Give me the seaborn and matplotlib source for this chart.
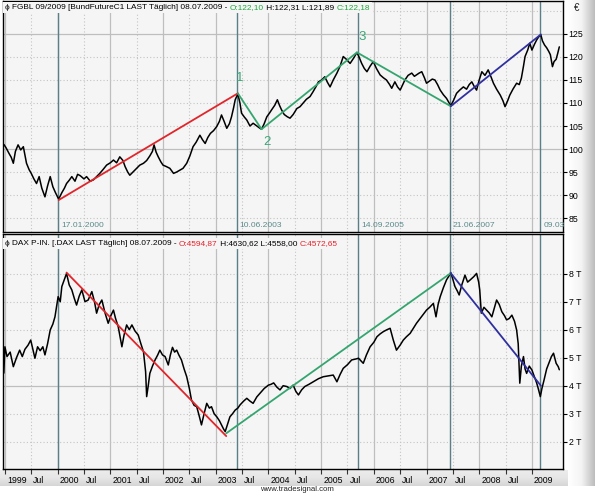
import numpy as np
import matplotlib
matplotlib.use("Agg")
import matplotlib.pyplot as plt
import matplotlib.transforms as mtransforms
from matplotlib.colors import LinearSegmentedColormap
from matplotlib.patches import Rectangle
import seaborn as sns

# ---------------- data (decimal years) ----------------
fgbl_t = [1998.98, 1999.02, 1999.08, 1999.12, 1999.16, 1999.20, 1999.25, 1999.30, 1999.35, 1999.41,
          1999.46, 1999.50, 1999.55, 1999.60, 1999.65, 1999.70, 1999.76, 1999.81, 1999.86, 1999.91,
          1999.96, 2000.02, 2000.08, 2000.13, 2000.17, 2000.22, 2000.27, 2000.33, 2000.38, 2000.43,
          2000.50, 2000.55, 2000.62, 2000.68, 2000.74, 2000.80, 2000.86, 2000.93, 2001.00, 2001.06,
          2001.12, 2001.18, 2001.24, 2001.28, 2001.33, 2001.37, 2001.43, 2001.50, 2001.56, 2001.63,
          2001.69, 2001.75, 2001.80, 2001.83, 2001.87, 2001.91, 2001.96, 2002.00, 2002.06, 2002.13,
          2002.20, 2002.26, 2002.32, 2002.38, 2002.45, 2002.51, 2002.57, 2002.63, 2002.70, 2002.75,
          2002.80, 2002.85, 2002.90, 2002.96, 2003.02, 2003.07, 2003.11, 2003.16, 2003.21, 2003.26,
          2003.30, 2003.34, 2003.37, 2003.42, 2003.46, 2003.49, 2003.54, 2003.59, 2003.65, 2003.71,
          2003.78, 2003.84, 2003.87, 2003.92, 2003.97, 2004.02, 2004.06, 2004.12, 2004.17, 2004.21,
          2004.25, 2004.30, 2004.36, 2004.41, 2004.47, 2004.54, 2004.60, 2004.66, 2004.72, 2004.79,
          2004.85, 2004.90, 2004.95, 2005.01, 2005.07, 2005.12, 2005.17, 2005.23, 2005.30, 2005.36,
          2005.42, 2005.48, 2005.55, 2005.62, 2005.68, 2005.72, 2005.77, 2005.82, 2005.87, 2005.93,
          2005.99, 2006.05, 2006.12, 2006.18, 2006.24, 2006.30, 2006.34, 2006.40, 2006.45, 2006.50,
          2006.55, 2006.59, 2006.65, 2006.72, 2006.77, 2006.81, 2006.86, 2006.91, 2006.96, 2007.00,
          2007.06, 2007.11, 2007.16, 2007.21, 2007.26, 2007.32, 2007.38, 2007.43, 2007.46, 2007.51,
          2007.57, 2007.63, 2007.70, 2007.76, 2007.81, 2007.86, 2007.91, 2007.95, 2008.00, 2008.05,
          2008.11, 2008.17, 2008.22, 2008.27, 2008.33, 2008.40, 2008.45, 2008.49, 2008.54, 2008.58,
          2008.64, 2008.71, 2008.76, 2008.80, 2008.84, 2008.87, 2008.92, 2008.96, 2009.00, 2009.05,
          2009.09, 2009.13, 2009.17, 2009.20, 2009.24, 2009.28, 2009.32, 2009.35, 2009.39, 2009.42,
          2009.46, 2009.49, 2009.52]
fgbl_v = [101.0, 100.3, 99.0, 98.2, 96.9, 99.5, 100.9, 99.8, 100.5, 96.9,
          95.5, 94.7, 93.5, 92.5, 94.0, 91.5, 89.6, 92.0, 94.0, 91.8,
          90.5, 89.1, 90.5, 91.5, 92.5, 93.2, 94.0, 93.0, 94.5, 94.2,
          93.5, 94.0, 93.0, 93.3, 94.0, 94.7, 95.5, 96.5, 97.0, 97.6,
          97.0, 98.3, 97.5, 96.2, 95.0, 94.3, 95.0, 95.8, 96.5, 96.9,
          97.5, 98.5, 99.5, 100.9, 99.3, 98.3, 97.2, 96.5, 96.2, 95.8,
          94.7, 95.0, 95.4, 95.8, 96.9, 98.5, 100.5, 101.5, 103.0, 102.0,
          101.2, 102.5, 103.4, 104.0, 104.9, 106.0, 107.4, 106.0, 104.5, 105.5,
          107.0, 109.0, 110.7, 112.0, 110.0, 107.8, 107.0, 106.3, 105.0, 105.6,
          105.0, 104.5, 104.3, 105.5, 107.0, 107.8, 108.5, 109.5, 110.7, 109.5,
          108.5, 107.5, 107.0, 106.7, 107.5, 108.8, 109.2, 110.0, 110.8, 111.4,
          112.5, 113.5, 114.6, 115.0, 115.7, 114.5, 113.5, 115.0, 116.5, 118.0,
          120.1, 119.5, 118.6, 119.8, 121.0, 120.0, 118.6, 117.5, 116.8, 118.0,
          119.0, 117.5, 116.1, 115.5, 115.0, 114.0, 113.2, 114.6, 113.5, 112.8,
          114.0, 115.0, 116.0, 116.5, 115.8, 116.1, 116.5, 116.8, 115.5, 114.3,
          114.8, 115.2, 115.0, 114.0, 112.8, 111.8, 111.0, 110.0, 109.4, 110.5,
          112.1, 112.8, 113.5, 113.0, 114.0, 114.6, 113.5, 112.8, 115.0, 116.8,
          116.0, 117.2, 115.8, 114.3, 113.0, 111.7, 110.5, 109.2, 110.5, 111.7,
          113.0, 114.3, 114.0, 115.4, 118.0, 120.1, 121.5, 123.0, 121.5, 122.8,
          123.7, 124.4, 124.8, 123.5, 122.6, 122.0, 121.2, 120.5, 117.9, 119.0,
          119.5, 120.8, 122.2]

dax_t = [1998.98, 1999.00, 1999.04, 1999.10, 1999.16, 1999.22, 1999.28, 1999.33, 1999.38, 1999.44,
         1999.49, 1999.53, 1999.57, 1999.62, 1999.67, 1999.72, 1999.76, 1999.81, 1999.86, 1999.91,
         1999.95, 2000.01, 2000.05, 2000.08, 2000.13, 2000.17, 2000.22, 2000.27, 2000.32, 2000.36,
         2000.41, 2000.46, 2000.52, 2000.58, 2000.65, 2000.70, 2000.74, 2000.79, 2000.84, 2000.90,
         2000.96, 2001.01, 2001.06, 2001.10, 2001.15, 2001.22, 2001.26, 2001.31, 2001.36, 2001.41,
         2001.47, 2001.53, 2001.58, 2001.63, 2001.67, 2001.69, 2001.72, 2001.75, 2001.80, 2001.85,
         2001.90, 2001.94, 2001.99, 2002.04, 2002.10, 2002.14, 2002.18, 2002.22, 2002.26, 2002.30,
         2002.35, 2002.40, 2002.45, 2002.50, 2002.54, 2002.59, 2002.64, 2002.69, 2002.73, 2002.78,
         2002.83, 2002.88, 2002.92, 2002.97, 2003.02, 2003.07, 2003.11, 2003.15, 2003.18, 2003.22,
         2003.27, 2003.32, 2003.37, 2003.42, 2003.46, 2003.53, 2003.59, 2003.65, 2003.71, 2003.78,
         2003.84, 2003.92, 2004.00, 2004.05, 2004.10, 2004.16, 2004.22, 2004.28, 2004.35, 2004.41,
         2004.47, 2004.52, 2004.57, 2004.63, 2004.69, 2004.77, 2004.85, 2004.95, 2005.04, 2005.13,
         2005.23, 2005.30, 2005.36, 2005.42, 2005.50, 2005.58, 2005.65, 2005.71, 2005.80, 2005.86,
         2005.93, 2006.00, 2006.06, 2006.12, 2006.18, 2006.25, 2006.31, 2006.37, 2006.43, 2006.50,
         2006.56, 2006.62, 2006.69, 2006.75, 2006.81, 2006.90, 2007.00, 2007.06, 2007.13, 2007.18,
         2007.22, 2007.26, 2007.32, 2007.38, 2007.42, 2007.46, 2007.50, 2007.54, 2007.58, 2007.62,
         2007.67, 2007.73, 2007.78, 2007.83, 2007.90, 2007.95, 2007.99, 2008.01, 2008.04, 2008.09,
         2008.14, 2008.19, 2008.24, 2008.29, 2008.33, 2008.38, 2008.43, 2008.48, 2008.52, 2008.57,
         2008.62, 2008.67, 2008.71, 2008.74, 2008.77, 2008.80, 2008.84, 2008.87, 2008.90, 2008.95,
         2009.00, 2009.05, 2009.09, 2009.12, 2009.16, 2009.19, 2009.23, 2009.28, 2009.32, 2009.37,
         2009.41, 2009.46, 2009.50, 2009.52]
dax_v = [4.45, 5.39, 5.04, 5.20, 4.68, 5.00, 5.27, 5.04, 5.30, 5.45,
         5.63, 5.30, 4.98, 5.39, 5.25, 5.39, 5.10, 5.50, 5.99, 6.20,
         6.46, 7.18, 7.00, 7.54, 7.80, 8.01, 7.60, 7.42, 7.10, 6.88,
         7.20, 7.42, 7.00, 7.06, 7.36, 7.00, 6.59, 6.90, 7.06, 6.60,
         6.23, 6.50, 6.70, 6.40, 6.11, 5.39, 5.80, 6.17, 6.00, 6.17,
         5.95, 5.81, 5.50, 5.21, 4.50, 3.61, 4.00, 4.44, 4.70, 4.92,
         5.10, 5.27, 5.10, 5.04, 4.74, 5.10, 5.37, 5.20, 5.27, 5.10,
         4.92, 4.60, 4.32, 3.90, 3.49, 3.30, 3.25, 2.90, 2.60, 3.00,
         3.37, 3.20, 3.25, 3.00, 2.89, 2.75, 2.60, 2.45, 2.36, 2.60,
         2.89, 3.00, 3.13, 3.20, 3.31, 3.45, 3.55, 3.45, 3.37, 3.60,
         3.73, 3.90, 4.02, 4.05, 4.10, 3.95, 3.85, 4.00, 3.97, 3.90,
         4.02, 3.80, 3.67, 3.85, 3.97, 4.05, 4.14, 4.25, 4.32, 4.35,
         4.38, 4.14, 4.40, 4.62, 4.75, 4.92, 4.95, 4.98, 4.80, 5.10,
         5.39, 5.55, 5.75, 5.85, 5.93, 6.00, 6.05, 5.63, 5.27, 5.45,
         5.63, 5.75, 5.87, 6.05, 6.23, 6.45, 6.70, 6.80, 6.94, 6.46,
         6.90, 7.18, 7.50, 7.78, 7.90, 8.04, 7.80, 7.54, 7.40, 7.24,
         7.60, 7.95, 7.70, 7.78, 7.90, 8.01, 7.70, 7.42, 6.59, 6.80,
         6.70, 6.60, 6.46, 6.80, 7.06, 6.90, 6.64, 6.50, 6.35, 6.40,
         6.52, 6.30, 5.99, 5.50, 4.09, 4.70, 5.04, 4.60, 4.44, 4.70,
         4.56, 4.30, 4.10, 3.90, 3.61, 3.90, 4.20, 4.60, 4.80, 5.04,
         5.16, 4.80, 4.68, 4.57]

# trend lines
fgbl_red_t, fgbl_red_v = [2000.02, 2003.42], [88.9, 112.1]
fgbl_green_t, fgbl_green_v = [2003.42, 2003.87, 2005.68, 2007.46], [112.1, 104.3, 121.0, 109.3]
fgbl_blue_t, fgbl_blue_v = [2007.46, 2009.17], [109.3, 124.9]
dax_red_t, dax_red_v = [2000.17, 2003.20], [8.04, 2.20]
dax_green_t, dax_green_v = [2003.20, 2007.46], [2.30, 8.02]
dax_blue_t, dax_blue_v = [2007.46, 2009.17], [8.02, 4.00]

# wave labels
wave_labels = ["1", "2", "3"]
wave_t = [2003.45, 2003.97, 2005.78]
wave_v = [115.4, 101.6, 124.3]

# marked dates (last one is cut off at the right edge in the chart)
marker_t = [2000.01, 2003.40, 2005.70, 2007.44, 2009.16]
marker_labels = ["17.01.2000", "10.06.2003", "14.09.2005", "21.06.2007", "09.03"]

# axes ticks
year_ticks = list(range(1999, 2010))
jul_ticks = [y + 0.5 for y in range(1999, 2009)]
top_ticks = [85, 90, 95, 100, 105, 110, 115, 120, 125]
top_grid = [85, 90, 95, 100, 105, 110, 115, 120, 125, 130]
top_solid = [100, 125]
bot_ticks = [2, 3, 4, 5, 6, 7, 8]
bot_solid = [4]

top_header = [("ϕ FGBL 09/2009 [BundFutureC1 LAST Täglich] 08.07.2009 - ", "black"),
              ("O:122,10", "#1fa83c"), (" H:122,31 L:121,89 ", "black"), ("C:122,18", "#1fa83c")]
bot_header = [("ϕ DAX P-IN. [.DAX LAST Täglich] 08.07.2009 - ", "black"),
              ("O:4594,87", "#e8202a"), (" H:4630,62 L:4558,00 ", "black"), ("C:4572,65", "#e8202a")]

# ---------------- styling ----------------
sns.set_theme(style="white")
plt.rcParams['font.family'] = ['Liberation Sans', 'DejaVu Sans']

W, H = 595, 494
fig = plt.figure(figsize=(W / 100, H / 100), dpi=100)
fig.patch.set_facecolor("white")

def rect(x0, y0, x1, y1):
    return [x0 / W, 1 - y1 / H, (x1 - x0) / W, (y1 - y0) / H]

# background decorations
bg = fig.add_axes([0, 0, 1, 1], zorder=-10)
bg.set_xlim(0, W); bg.set_ylim(H, 0); bg.axis("off")
cm_r = LinearSegmentedColormap.from_list("r", ["#ffffff", "#f4f4f4", "#bcbcbc"])
bg.imshow(np.linspace(0, 1, 64)[None, :], extent=[568, 595, 486, 0], cmap=cm_r, aspect="auto")
cm_b = LinearSegmentedColormap.from_list("b", ["#ececec", "#e6e6e6", "#d6d6d6"])
bg.imshow(np.linspace(0, 1, 16)[:, None], extent=[0, 568, 486, 470], cmap=cm_b, aspect="auto")

ax1 = fig.add_axes(rect(3, 1, 563, 232))
ax2 = fig.add_axes(rect(3, 234, 563, 469))
PLOT_BG = "#f5f5f5"
XMIN, XMAX = 1998.964, 2009.59

for ax in (ax1, ax2):
    ax.set_facecolor(PLOT_BG)
    ax.set_xlim(XMIN, XMAX)
    for s in ax.spines.values():
        s.set_color("black"); s.set_linewidth(1.0); s.set_visible(True)
    for x in year_ticks:
        ax.axvline(x, color="#bebebe", lw=0.9, zorder=1)
    for x in jul_ticks:
        ax.axvline(x, color="#c4c4c4", lw=0.8, ls=(0, (1, 2)), zorder=1)
    for x in marker_t:
        ax.axvline(x, color="#5b7f86", lw=1.0, zorder=1.5)

ax1.set_ylim(81.96, 132.17)
ax2.set_ylim(1.025, 9.418)
for v in top_grid:
    if v in top_solid:
        ax1.axhline(v, color="#bebebe", lw=0.9, zorder=1)
    else:
        ax1.axhline(v, color="#c4c4c4", lw=0.8, ls=(0, (1, 2)), zorder=1)
for v in bot_ticks:
    if v in bot_solid:
        ax2.axhline(v, color="#bebebe", lw=0.9, zorder=1)
    else:
        ax2.axhline(v, color="#c4c4c4", lw=0.8, ls=(0, (1, 2)), zorder=1)

RED, GREEN, BLUE = "#e0262b", "#35a56f", "#2f2f9f"
kw = dict(sort=False, estimator=None, legend=False)

sns.lineplot(x=fgbl_t, y=fgbl_v, ax=ax1, color="black", lw=1.1, zorder=3, **kw)
sns.lineplot(x=fgbl_red_t, y=fgbl_red_v, ax=ax1, color=RED, lw=1.3, zorder=4, **kw)
sns.lineplot(x=fgbl_green_t, y=fgbl_green_v, ax=ax1, color=GREEN, lw=1.3, zorder=4, **kw)
sns.lineplot(x=fgbl_blue_t, y=fgbl_blue_v, ax=ax1, color=BLUE, lw=1.3, zorder=4, **kw)

sns.lineplot(x=dax_t, y=dax_v, ax=ax2, color="black", lw=1.1, zorder=3, **kw)
sns.lineplot(x=dax_red_t, y=dax_red_v, ax=ax2, color=RED, lw=1.3, zorder=4, **kw)
sns.lineplot(x=dax_green_t, y=dax_green_v, ax=ax2, color=GREEN, lw=1.3, zorder=4, **kw)
sns.lineplot(x=dax_blue_t, y=dax_blue_v, ax=ax2, color=BLUE, lw=1.3, zorder=4, **kw)

for s, t, v in zip(wave_labels, wave_t, wave_v):
    ax1.text(t, v, s, color="#3aa776", fontsize=9.5, ha="center", va="center", zorder=5)

# date labels along the bottom of top panel
blend = mtransforms.blended_transform_factory(ax1.transData, ax1.transAxes)
for t, lab in zip(marker_t, marker_labels):
    ax1.annotate(lab, xy=(t, 0), xycoords=blend, xytext=(3, 3), textcoords="offset pixels",
                 fontsize=6.1, color="#5c8a8c", ha="left", va="bottom", zorder=5)

# right axis
for ax, ticks, fmt in ((ax1, top_ticks, "{:d}"), (ax2, bot_ticks, "{:d} T")):
    ax.yaxis.tick_right()
    ax.set_yticks(ticks)
    ax.set_yticklabels([fmt.format(t) for t in ticks])
    ax.tick_params(axis="y", which="both", right=True, left=False, length=3, width=0.8,
                   pad=1, direction="out", labelsize=6.3, colors="black")
    ax.set_xlabel(""); ax.set_ylabel("")

ax1.set_xticks([])
xt = sorted(year_ticks + jul_ticks)
ax2.set_xticks(xt)
ax2.set_xticklabels([str(int(x)) if x == int(x) else "Jul" for x in xt])
ax2.tick_params(axis="x", length=3.5, width=0.8, pad=1.5, direction="out", labelsize=6.3,
                colors="#333333", bottom=True)
off = mtransforms.ScaledTranslation(2 / 100, 0, fig.dpi_scale_trans)
for lab in ax2.get_xticklabels():
    lab.set_horizontalalignment("left")
    lab.set_transform(lab.get_transform() + off)
    lab.set_color("black")

# headers (text chained piece by piece, with a plain background strip behind)
HFS = 5.95
def header(ax, parts, y):
    texts = []
    t = ax.text(0.004, y, parts[0][0], color=parts[0][1], transform=ax.transAxes, fontsize=HFS,
                ha="left", va="center", zorder=6)
    texts.append(t)
    for s, c in parts[1:]:
        t = ax.annotate(s, xy=(1, 0), xycoords=t, ha="left", va="bottom", color=c, fontsize=HFS,
                        zorder=6)
        texts.append(t)
    return texts

h1 = header(ax1, top_header, 1 - 6.5 / 231)
h2 = header(ax2, bot_header, 1 - 9.5 / 235)

fig.text(577 / W, 1 - 8 / H, "€", fontsize=7, ha="center", va="center")
fig.text(297 / W, 1 - 489 / H, "www.tradesignal.com", fontsize=5.6, ha="center", va="center", color="#222222")

fig.canvas.draw()
r = fig.canvas.get_renderer()
for ax, texts in ((ax1, h1), (ax2, h2)):
    bb = mtransforms.Bbox.union([t.get_window_extent(r) for t in texts])
    inv = ax.transAxes.inverted()
    (x0, y0), (x1, y1) = inv.transform([[bb.x0 - 2, bb.y0 - 2], [bb.x1 + 2, bb.y1 + 2]])
    ax.add_patch(Rectangle((x0, y0), x1 - x0, y1 - y0, transform=ax.transAxes,
                           facecolor=PLOT_BG, edgecolor="none", zorder=5.5))

fig.savefig("out.png", dpi=100, facecolor="white")
